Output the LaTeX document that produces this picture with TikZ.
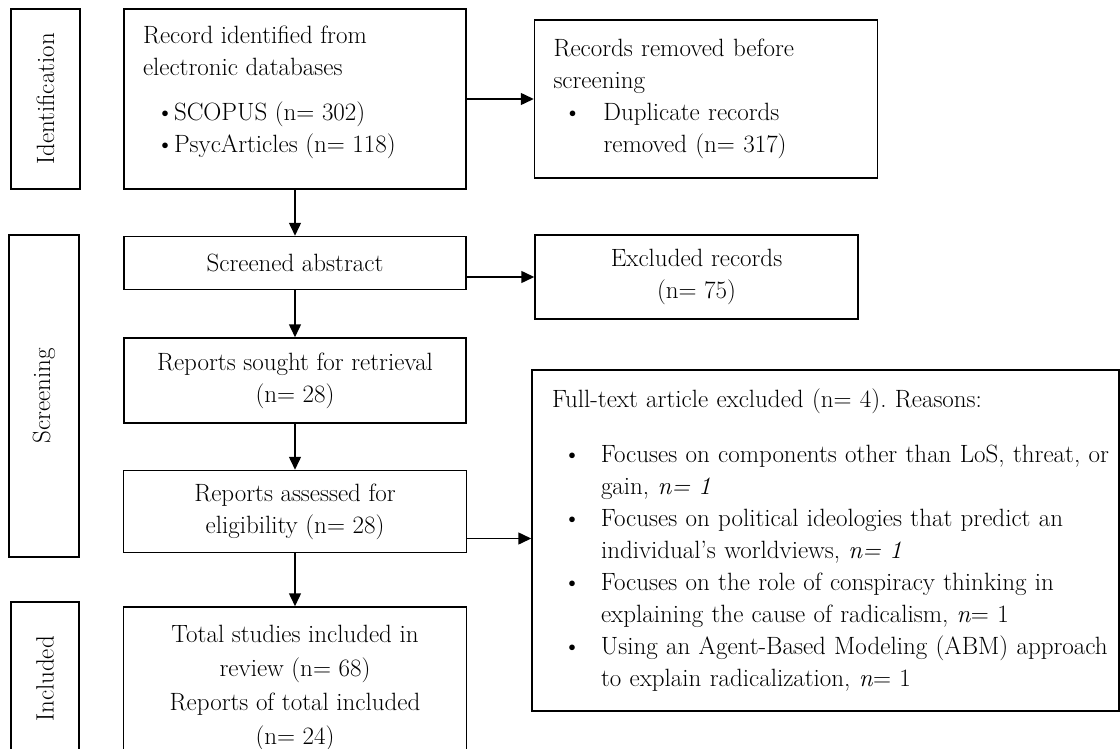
\documentclass[tikz,border=0pt]{standalone}
\usetikzlibrary{arrows.meta}
\usetikzlibrary{positioning}

\newcommand{\hitem}[2]{\hspace*{11pt}\makebox[38pt][l]{\textbullet}#1\\\hspace*{49pt}#2\\}

\tikzset{
  box/.style={draw, line width=1.5pt, inner sep=0pt, align=center},
  lbox/.style={draw, line width=1.5pt, inner xsep=19pt, inner ysep=0pt, align=left},
  phase/.style={draw, line width=1.5pt, inner sep=0pt, rotate=90},
  arr/.style={-{Triangle[length=13pt,width=12pt]}, line width=1.5pt},
}

\begin{document}
\begin{tikzpicture}[x=1pt, y=-1pt, every node/.style={font=\fontsize{25}{32}\selectfont\frenchspacing}]

\path[use as bounding box] (0,0) rectangle (1120,749);
\clip (0,0) rectangle (1120,749);

% phases
\node[phase, minimum width=180pt, minimum height=69pt] (ident) at (45.5,99) {Identification};
\node[phase, minimum width=322pt, minimum height=70pt] (screen) at (44,396) {Screening};
\node[phase, minimum width=154pt, minimum height=68pt] (incl) at (45,679) {Included};

% main column
\node[lbox, minimum height=180pt] (record) at (295,99)
  {\raisebox{7pt}[\height][\depth]{\parbox{304pt}{Record identified from\\electronic databases\\[13pt]
   \hspace*{13pt}\makebox[18pt][l]{\textbullet}SCOPUS (n= 302)\\
   \hspace*{13pt}\makebox[18pt][l]{\textbullet}PsycArticles (n= 118)}}};
\node[box, minimum width=342pt, minimum height=53pt, below=46pt of record] (abstract) {Screened abstract};
\node[box, minimum width=342pt, minimum height=85pt, below=47pt of abstract] (sought) {Reports sought for retrieval\\(n= 28)};
\node[box, minimum width=343pt, minimum height=82pt, below=46pt of sought] (assessed) {Reports assessed for\\eligibility (n= 28)};
\node[box, minimum width=343pt, minimum height=162pt, below=53pt of assessed] (total)
  {Total studies included in\\[2pt]review (n= 68)\\[2pt]Reports of total included\\[2pt](n= 24)};

% side boxes
\node[lbox, text width=305pt, minimum height=158pt, right=67pt of record] (removed)
  {Records removed before\\screening\\
   \hspace*{10pt}\makebox[40pt][l]{\textbullet}Duplicate records\\
   \hspace*{50pt}removed (n= 317)};
\node[box, minimum width=323pt, minimum height=84pt] (excluded) at (696.5,277) {Excluded records\\(n= 75)};
\node[lbox, inner xsep=20pt, text width=547pt, minimum height=341pt] (fulltext) at (825.5,540.5)
  {Full-text article excluded (n= 4). Reasons:\par\vspace{23pt}
   \hitem{\mbox{Focuses on components other than LoS, threat, or}}{gain, \textit{n= 1}}
   \hitem{\mbox{Focuses on political ideologies that predict an}}{individual's worldviews, \textit{n= 1}}
   \hitem{\mbox{Focuses on the role of conspiracy thinking in}}{explaining the cause of radicalism, \textit{n}= 1}
   \hitem{\mbox{Using an Agent-Based Modeling (ABM) approach}}{to explain radicalization, \textit{n}= 1}};

% arrows
\coordinate (aout) at ([yshift=-27pt]assessed.east);
\draw[arr] (record) -- (removed);
\draw[arr] (record) -- (abstract);
\draw[arr] (abstract.east |- excluded) -- (excluded);
\draw[arr] (abstract) -- (sought);
\draw[arr] (sought) -- (assessed);
\draw[arr] (aout) -- (aout -| fulltext.west);
\draw[arr] (assessed) -- (total);

\end{tikzpicture}
\end{document}
